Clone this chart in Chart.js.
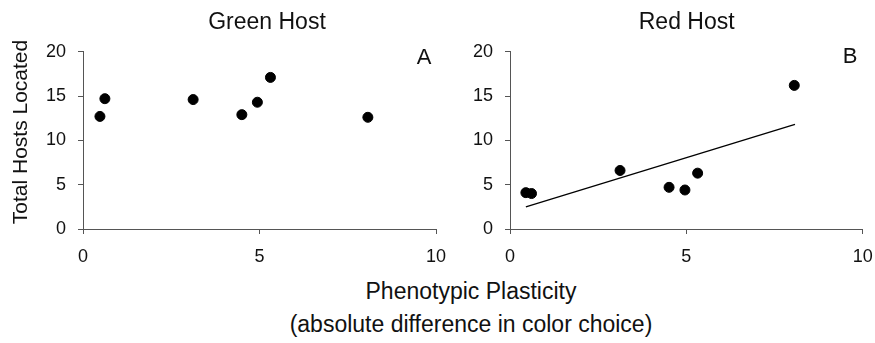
<!DOCTYPE html>
<html>
<head>
<meta charset="utf-8">
<script src="https://cdn.jsdelivr.net/npm/chart.js@4.4.1/dist/chart.umd.min.js"></script>
<style>
  body { margin: 0; background: #fff; width: 875px; height: 343px; position: relative; overflow: hidden; font-family: 'Liberation Sans', Arial, sans-serif; }
  #chartA { position: absolute; left: 0; top: 0; }
  #chartB { position: absolute; left: 440px; top: 0; }
  #xtitle { position: absolute; left: 0; top: 275px; width: 942px; text-align: center; font-size: 23px; line-height: 33px; color: #111; }
</style>
</head>
<body>
<canvas id="chartA" width="455" height="270"></canvas>
<canvas id="chartB" width="435" height="270"></canvas>
<div id="xtitle">Phenotypic Plasticity<br>(absolute difference in color choice)</div>
<script>
// ── Data ────
const greenX = [0.48, 0.62, 3.12, 4.50, 4.94, 5.31, 8.07];
const greenY = [12.7, 14.7, 14.6, 12.9, 14.3, 17.1, 12.6];
const redX = [0.45, 0.61, 3.12, 4.51, 4.96, 5.32, 8.06];
const redY = [4.1, 4.0, 6.6, 4.7, 4.4, 6.3, 16.2];
const trendX = [0.45, 8.08];
const trendY = [2.5, 11.8];
const xTicks = [0, 5, 10];
const yTicks = [0, 5, 10, 15, 20];

// ── Defaults ────
Chart.defaults.font.family = "'Liberation Sans', Arial, sans-serif";
Chart.defaults.color = '#111';
Chart.defaults.animation = false;

const AXIS = '#555';
const pts = (xs, ys) => xs.map((x, i) => ({ x, y: ys[i] }));

// textos do painel (título, letra, eixo y) desenhados no canvas
const panelText = {
    id: 'panelText',
    afterDraw(chart, args, opts) {
        const ctx = chart.ctx;
        (opts.items || []).forEach(t => {
            ctx.save();
            ctx.font = `${t.size}px 'Liberation Sans', Arial, sans-serif`;
            ctx.fillStyle = '#111';
            ctx.textAlign = 'center';
            ctx.textBaseline = 'middle';
            ctx.translate(t.x, t.y);
            if (t.rotate) ctx.rotate(-Math.PI / 2);
            ctx.fillText(t.text, 0, 0);
            ctx.restore();
        });
    }
};

function scales(yWidth) {
    return {
        x: {
            type: 'linear', min: 0, max: 10,
            afterBuildTicks: s => { s.ticks = xTicks.map(v => ({ value: v })); },
            afterFit: s => { s.height = 41; s.paddingLeft = 0; s.paddingRight = 0; },
            ticks: { padding: 12, font: { size: 18 } },
            grid: { display: true, drawOnChartArea: false, drawTicks: true, tickLength: 5, color: AXIS },
            border: { display: true, color: AXIS, width: 1 }
        },
        y: {
            type: 'linear', min: 0, max: 20,
            afterBuildTicks: s => { s.ticks = yTicks.map(v => ({ value: v })); },
            afterFit: s => { s.width = yWidth; s.paddingTop = 0; s.paddingBottom = 0; },
            ticks: { padding: 12, font: { size: 18 } },
            grid: { display: true, drawOnChartArea: false, drawTicks: true, tickLength: 5, color: AXIS },
            border: { display: true, color: AXIS, width: 1 }
        }
    };
}

const dots = (xs, ys) => ({
    type: 'scatter',
    data: pts(xs, ys),
    backgroundColor: '#000',
    borderColor: '#000',
    pointRadius: 5,
    pointHoverRadius: 5
});

// ── Painel A: Green Host ────
new Chart(document.getElementById('chartA'), {
    type: 'scatter',
    data: { datasets: [dots(greenX, greenY)] },
    options: {
        responsive: false,
        layout: { padding: { top: 51.7, right: 19, left: 0, bottom: 0 } },
        plugins: {
            legend: { display: false },
            tooltip: { enabled: false },
            panelText: {
                items: [
                    { text: 'Green Host', x: 267, y: 23, size: 23 },
                    { text: 'A', x: 424, y: 58, size: 22 },
                    { text: 'Total Hosts Located', x: 21, y: 132, size: 21, rotate: true }
                ]
            }
        },
        scales: scales(83)
    },
    plugins: [panelText]
});

// ── Painel B: Red Host ────
new Chart(document.getElementById('chartB'), {
    type: 'scatter',
    data: {
        datasets: [
            dots(redX, redY),
            {
                type: 'line',
                data: pts(trendX, trendY),
                borderColor: '#000',
                borderWidth: 1.3,
                pointRadius: 0,
                fill: false
            }
        ]
    },
    options: {
        responsive: false,
        layout: { padding: { top: 51.7, right: 12.3, left: 0, bottom: 0 } },
        plugins: {
            legend: { display: false },
            tooltip: { enabled: false },
            panelText: {
                items: [
                    { text: 'Red Host', x: 246.7, y: 23, size: 23 },
                    { text: 'B', x: 410, y: 57, size: 22 }
                ]
            }
        },
        scales: scales(70)
    },
    plugins: [panelText]
});
</script>
</body>
</html>
